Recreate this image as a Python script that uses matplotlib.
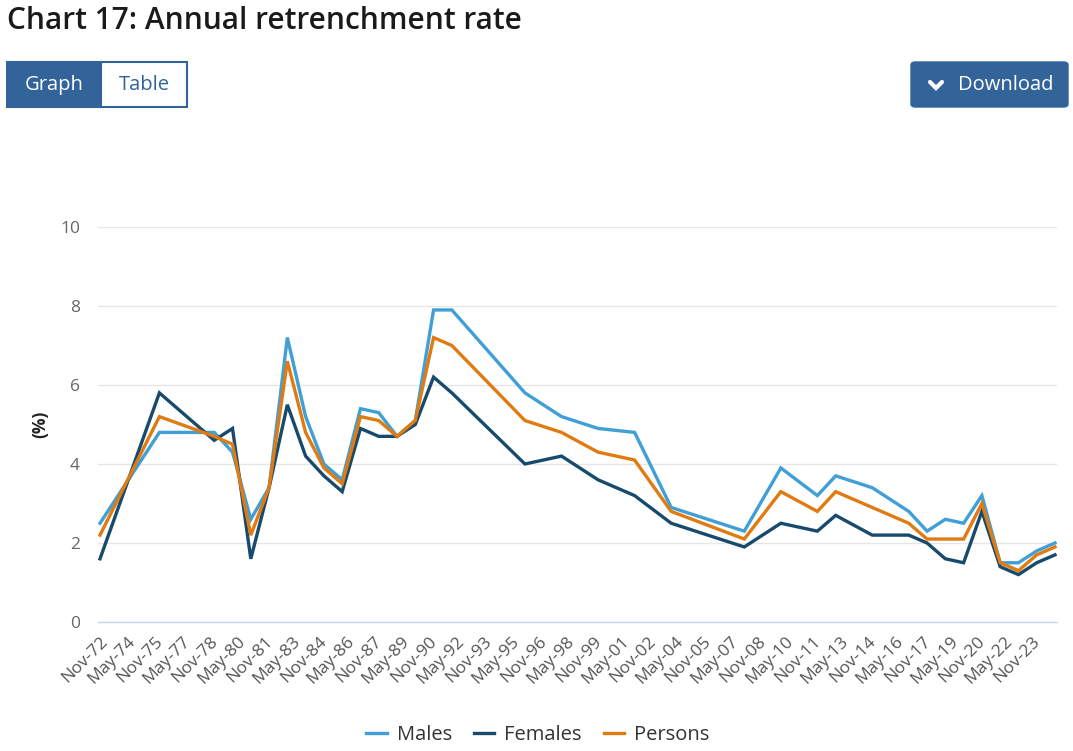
import matplotlib
matplotlib.use("Agg")
import matplotlib.pyplot as plt
from matplotlib.patches import Rectangle, FancyBboxPatch
from matplotlib.lines import Line2D

# ---- data ----
dates = ["Nov-72", "Feb-76", "Feb-79", "Feb-80", "Feb-81", "Feb-82", "Feb-83", "Feb-84",
         "Feb-85", "Feb-86", "Feb-87", "Feb-88", "Feb-89", "Feb-90", "Feb-91", "Feb-92",
         "Feb-96", "Feb-98", "Feb-00", "Feb-02", "Feb-04", "Feb-08", "Feb-10", "Feb-12",
         "Feb-13", "Feb-15", "Feb-17", "Feb-18", "Feb-19", "Feb-20", "Feb-21", "Feb-22",
         "Feb-23", "Feb-24", "Feb-25"]
males = [2.5, 4.8, 4.8, 4.3, 2.6, 3.4, 7.2, 5.2, 4.0, 3.6, 5.4, 5.3, 4.7, 5.1, 7.9, 7.9,
         5.8, 5.2, 4.9, 4.8, 2.9, 2.3, 3.9, 3.2, 3.7, 3.4, 2.8, 2.3, 2.6, 2.5, 3.2, 1.5,
         1.5, 1.8, 2.0]
females = [1.6, 5.8, 4.6, 4.9, 1.6, 3.4, 5.5, 4.2, 3.7, 3.3, 4.9, 4.7, 4.7, 5.0, 6.2, 5.8,
           4.0, 4.2, 3.6, 3.2, 2.5, 1.9, 2.5, 2.3, 2.7, 2.2, 2.2, 2.0, 1.6, 1.5, 2.8, 1.4,
           1.2, 1.5, 1.7]
persons = [2.2, 5.2, 4.7, 4.5, 2.2, 3.4, 6.6, 4.8, 3.9, 3.5, 5.2, 5.1, 4.7, 5.1, 7.2, 7.0,
           5.1, 4.8, 4.3, 4.1, 2.8, 2.1, 3.3, 2.8, 3.3, 2.9, 2.5, 2.1, 2.1, 2.1, 3.0, 1.5,
           1.3, 1.7, 1.9]
tick_labels = ["Nov-72", "May-74", "Nov-75", "May-77", "Nov-78", "May-80", "Nov-81",
               "May-83", "Nov-84", "May-86", "Nov-87", "May-89", "Nov-90", "May-92",
               "Nov-93", "May-95", "Nov-96", "May-98", "Nov-99", "May-01", "Nov-02",
               "May-04", "Nov-05", "May-07", "Nov-08", "May-10", "Nov-11", "May-13",
               "Nov-14", "May-16", "Nov-17", "May-19", "Nov-20", "May-22", "Nov-23"]
y_ticks = [0, 2, 4, 6, 8, 10]

MONTHS = {"Jan": 1, "Feb": 2, "Mar": 3, "Apr": 4, "May": 5, "Jun": 6, "Jul": 7,
          "Aug": 8, "Sep": 9, "Oct": 10, "Nov": 11, "Dec": 12}


def to_year(s):
    m, y = s.split("-")
    y = int(y)
    y = 1900 + y if y > 50 else 2000 + y
    return y + (MONTHS[m] - 1) / 12.0


xs = [to_year(d) for d in dates]
tick_pos = [to_year(t) for t in tick_labels]

plt.rcParams['font.family'] = ['Open Sans', 'DejaVu Sans']

W, H = 1073, 751
fig = plt.figure(figsize=(W / 100, H / 100), dpi=100)


def fx(x):
    return x / W


def fy(y):
    return 1 - y / H


# plot area
left, right, top, bottom = 98, 1057, 227, 622
ax = fig.add_axes([fx(left), fy(bottom), (right - left) / W, (bottom - top) / H])

c_m, c_f, c_p = "#3f9fd6", "#174a6d", "#e07b12"
ax.plot(xs, males, color=c_m, lw=2.4, label="Males", solid_joinstyle='miter', zorder=3)
ax.plot(xs, females, color=c_f, lw=2.4, label="Females", solid_joinstyle='miter', zorder=3)
ax.plot(xs, persons, color=c_p, lw=2.4, label="Persons", solid_joinstyle='miter', zorder=3)

x0 = xs[0]
pxyr = (1055 - 100) / (xs[-1] - xs[0])
ax.set_xlim(x0 - 2 / pxyr, x0 + (right - 100) / pxyr)
ax.set_ylim(0, 10)
ax.set_yticks(y_ticks)
ax.set_yticklabels([str(v) for v in y_ticks])
ax.set_xticks(tick_pos)
ax.set_xticklabels(tick_labels, rotation=45, ha='right', va='top',
                   rotation_mode='anchor')
ax.tick_params(axis='x', length=0, pad=8, labelsize=12.5, labelcolor="#555555")
ax.tick_params(axis='y', length=0, pad=13, labelsize=12.5, labelcolor="#666666")
ax.grid(axis='y', color="#e6e6e6", lw=1)
ax.set_axisbelow(True)
for s in ["top", "right", "left"]:
    ax.spines[s].set_visible(False)
ax.spines["bottom"].set_color("#ccd6eb")
ax.spines["bottom"].set_linewidth(1)
ax.set_ylabel("(%)", fontsize=12.5, fontweight='bold', color="#222222", labelpad=8)

leg = fig.legend(loc='center', bbox_to_anchor=(fx(538), fy(735)), ncol=3, frameon=False,
                 fontsize=14.5, handlelength=1.0, handletextpad=0.5, columnspacing=1.1,
                 labelcolor="#333333")

# title
fig.text(fx(7), fy(21), "Chart 17: Annual retrenchment rate", fontsize=21.5,
         fontweight='semibold', color="#1a1a1a", va='center', ha='left')

blue = "#32649a"
# Graph / Table buttons
fig.patches.append(Rectangle((fx(7), fy(107)), (101 - 7) / W, (107 - 62) / H,
                             transform=fig.transFigure, facecolor=blue, edgecolor=blue,
                             lw=1.5))
fig.patches.append(Rectangle((fx(101), fy(107)), (187 - 101) / W, (107 - 62) / H,
                             transform=fig.transFigure, facecolor="white", edgecolor=blue,
                             lw=1.5))
fig.text(fx(54), fy(85), "Graph", fontsize=14.5, color="white", ha='center', va='center')
fig.text(fx(144), fy(85), "Table", fontsize=14.5, color=blue, ha='center', va='center')

# Download button
fig.patches.append(FancyBboxPatch((fx(911), fy(107)), (1068 - 911) / W, (107 - 62) / H,
                                  boxstyle="round,pad=0,rounding_size=0.004",
                                  transform=fig.transFigure, facecolor=blue,
                                  edgecolor=blue, lw=1))
fig.lines.append(Line2D([fx(930), fx(936), fx(942)], [fy(82), fy(88), fy(82)],
                        transform=fig.transFigure, color="white", lw=3,
                        solid_capstyle='round', solid_joinstyle='miter'))
fig.text(fx(1006), fy(85), "Download", fontsize=14.5, color="white", ha='center',
         va='center')

fig.savefig("out.png", dpi=100)
